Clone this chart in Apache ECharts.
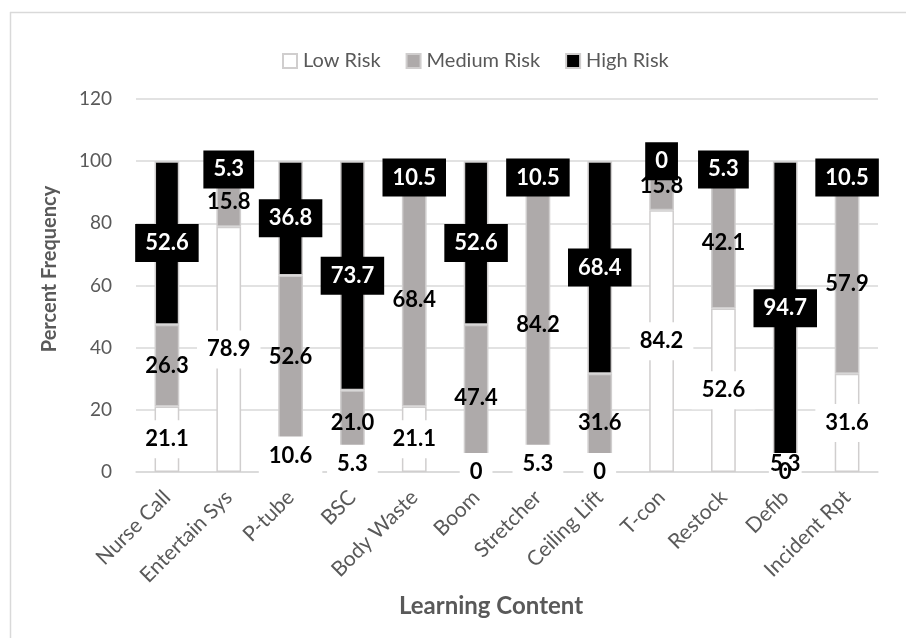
<!DOCTYPE html>
<html>
<head>
<meta charset="utf-8">
<script src="https://cdn.jsdelivr.net/npm/echarts@6/dist/echarts.min.js"></script>
<style>
  html, body { margin: 0; padding: 0; background: #fff; }
  #chart { width: 906px; height: 638px; }
</style>
</head>
<body>
<div id="chart"></div>
<script>
// Risk frequency (%) per learning-content item
const categories = ['Nurse Call', 'Entertain Sys', 'P-tube', 'BSC', 'Body Waste', 'Boom',
  'Stretcher', 'Ceiling Lift', 'T-con', 'Restock', 'Defib', 'Incident Rpt'];
const lowRisk    = [21.1, 78.9, 10.6, 5.3, 21.1, 0, 5.3, 0, 84.2, 52.6, 0, 31.6];
const mediumRisk = [26.3, 15.8, 52.6, 21.0, 68.4, 47.4, 84.2, 31.6, 15.8, 42.1, 5.3, 57.9];
const highRisk   = [52.6, 5.3, 36.8, 73.7, 10.5, 52.6, 10.5, 68.4, 0, 5.3, 94.7, 10.5];
const yTicks = { min: 0, max: 120, interval: 20 };

const FONT = 'Lato';
const GREY_TEXT = '#595959';
const BORDER = '#d0cece';

function fmt(p) {
  return p.value === 0 ? '0' : p.value.toFixed(1);
}

function labelStyle(color, bg) {
  const l = {
    show: true,
    position: 'inside',
    formatter: fmt,
    fontFamily: FONT,
    fontWeight: 'bold',
    fontSize: 22,
    lineHeight: 24,
    color: color
  };
  if (bg) {
    l.backgroundColor = bg;
    l.padding = [7, 10];
  }
  return l;
}

const chart = echarts.init(document.getElementById('chart'), null, { renderer: 'canvas' });

chart.setOption({
  animation: false,
  textStyle: { fontFamily: FONT },
  legend: {
    left: 277,
    top: 46,
    itemWidth: 14,
    itemHeight: 14,
    itemGap: 25,
    icon: 'rect',
    textStyle: { color: GREY_TEXT, fontSize: 20, fontFamily: FONT, padding: [0, 0, 0, 1] },
    data: ['Low Risk', 'Medium Risk', 'High Risk']
  },
  grid: { left: 136, right: 28, top: 99, bottom: 166, containLabel: false },
  xAxis: {
    type: 'category',
    data: categories,
    axisLine: { lineStyle: { color: '#d9d9d9', width: 1.5 } },
    axisTick: { show: false },
    axisLabel: {
      rotate: 45,
      interval: 0,
      margin: 22,
      color: GREY_TEXT,
      fontSize: 21,
      fontFamily: FONT
    }
  },
  yAxis: {
    type: 'value',
    min: yTicks.min,
    max: yTicks.max,
    interval: yTicks.interval,
    axisLine: { show: false },
    axisTick: { show: false },
    splitLine: { lineStyle: { color: '#d9d9d9', width: 1.5 } },
    axisLabel: { color: GREY_TEXT, fontSize: 19, fontFamily: FONT, margin: 24 }
  },
  series: [
    {
      name: 'Low Risk',
      type: 'bar',
      stack: 'risk',
      barWidth: '40%',
      data: lowRisk,
      itemStyle: { color: '#ffffff', borderColor: BORDER, borderWidth: 1.5 },
      label: labelStyle('#000000', '#ffffff'),
      emphasis: { disabled: true }
    },
    {
      name: 'Medium Risk',
      type: 'bar',
      stack: 'risk',
      barWidth: '40%',
      data: mediumRisk,
      itemStyle: { color: '#aeaaaa', borderColor: BORDER, borderWidth: 1.5 },
      label: labelStyle('#000000', null),
      emphasis: { disabled: true }
    },
    {
      name: 'High Risk',
      type: 'bar',
      stack: 'risk',
      barWidth: '40%',
      data: highRisk,
      itemStyle: { color: '#000000', borderColor: BORDER, borderWidth: 1.5 },
      label: labelStyle('#ffffff', '#000000'),
      emphasis: { disabled: true }
    }
  ],
  graphic: [
    // chart frame (top and left edges)
    { type: 'line', shape: { x1: 10, y1: 12.5, x2: 906, y2: 12.5 }, style: { stroke: '#d9d9d9', lineWidth: 1.5 } },
    { type: 'line', shape: { x1: 10.5, y1: 12, x2: 10.5, y2: 638 }, style: { stroke: '#d9d9d9', lineWidth: 1.5 } },
    {
      type: 'text',
      x: 50, y: 269,
      rotation: Math.PI / 2,
      style: {
        text: 'Percent Frequency',
        fill: GREY_TEXT,
        font: 'bold 20px ' + FONT,
        textAlign: 'center',
        textVerticalAlign: 'middle'
      }
    },
    {
      type: 'text',
      x: 491, y: 606,
      style: {
        text: 'Learning Content',
        fill: GREY_TEXT,
        font: 'bold 24px ' + FONT,
        textAlign: 'center',
        textVerticalAlign: 'middle'
      }
    }
  ]
});
</script>
</body>
</html>
